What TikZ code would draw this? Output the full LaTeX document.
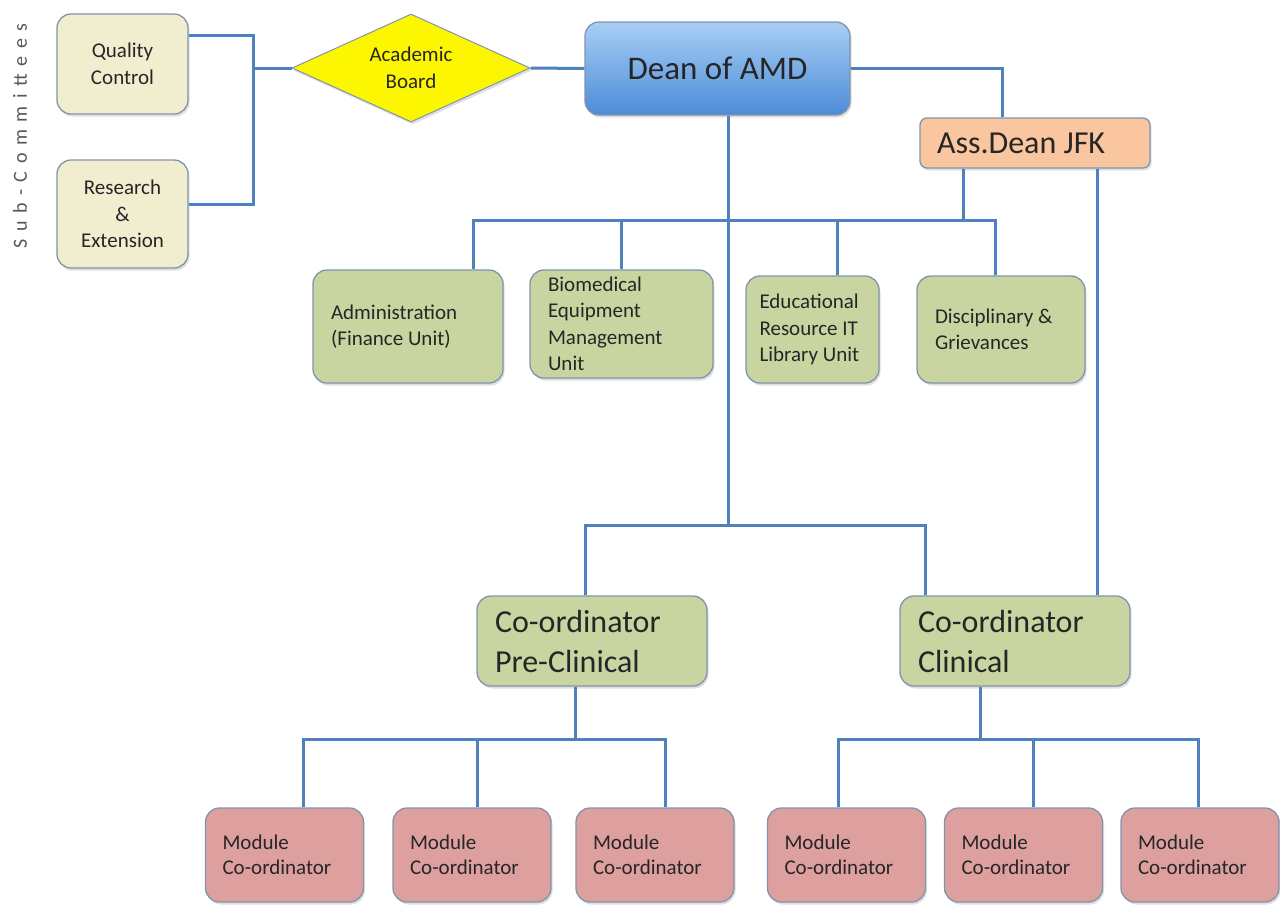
\documentclass[tikz,border=0pt]{standalone}
\usepackage{fontspec}
\setmainfont{Carlito}
\newfontfamily\spacedfont[LetterSpace=38]{Carlito}
\usetikzlibrary{shapes.geometric,shadows}
\definecolor{linkblue}{RGB}{79,129,189}
\definecolor{boxedge}{RGB}{128,148,172}
\definecolor{subfill}{RGB}{240,238,206}
\definecolor{unitfill}{RGB}{200,213,160}
\definecolor{modfill}{RGB}{221,160,158}
\definecolor{assfill}{RGB}{250,198,160}
\definecolor{boardyellow}{RGB}{252,247,0}
\definecolor{deantop}{RGB}{168,206,246}
\definecolor{deanbot}{RGB}{76,140,214}
\definecolor{subgray}{RGB}{88,88,88}
\begin{document}
\begin{tikzpicture}[x=1pt,y=-1pt]
\useasboundingbox (0,0) rectangle (1280,906);
\tikzstyle{every node}=[inner sep=0pt,text=black!85];
\tikzstyle{box}=[draw=boxedge,line width=1.3pt,rounded corners=14pt,drop shadow={opacity=0.25,shadow xshift=1.5pt,shadow yshift=-2.5pt}];
\tikzstyle{txtsmall}=[font=\fontsize{21}{26.5}\selectfont];
\tikzstyle{txtbig}=[font=\fontsize{32}{40}\selectfont];
\tikzstyle{subbox}=[box,txtsmall,fill=subfill,align=center,minimum width=131pt];
\tikzstyle{unitbox}=[box,txtsmall,fill=unitfill,align=flush left];
\tikzstyle{coordbox}=[box,txtbig,fill=unitfill,align=flush left,minimum width=230pt,text width=194pt,minimum height=90pt];
\tikzstyle{modbox}=[box,txtsmall,fill=modfill,align=flush left,minimum width=158pt,text width=124pt,minimum height=94pt,font=\fontsize{21}{25}\selectfont];
\tikzstyle{linkline}=[draw=linkblue,line width=3pt];
\node[rotate=90,text=subgray,font=\spacedfont\fontsize{20}{20}\selectfont] (sc) at (20,136) {Sub-Committees};
\node[subbox,minimum height=100pt] (qc) at (122.5,64) {Quality\\Control};
\node[subbox,minimum height=108pt] (re) at (122.5,214) {Research\\\&\\Extension};
\node[diamond,aspect=2.2,draw=boxedge,line width=1pt,fill=boardyellow,txtsmall,align=center,minimum width=238pt,minimum height=108pt,drop shadow={opacity=0.25,shadow xshift=1.5pt,shadow yshift=-2.5pt}] (ab) at (411,68) {Academic\\Board};
\node[box,top color=deantop,bottom color=deanbot,minimum width=265pt,minimum height=93pt,font=\fontsize{33}{40}\selectfont] (dean) at (717.5,68.5) {Dean of AMD};
\node[box,fill=assfill,rounded corners=7pt,minimum width=230pt,minimum height=50pt,text width=196pt,align=flush left,txtbig] (ass) at (1035,143) {Ass.Dean JFK};
\node[unitbox,minimum width=190pt,text width=154pt,minimum height=113pt] (adm) at (408,326.5) {Administration\\(Finance Unit)};
\node[unitbox,minimum width=183pt,text width=147pt,minimum height=108pt] (bio) at (621.5,324) {Biomedical\\Equipment\\Management\\Unit};
\node[unitbox,minimum width=133pt,text width=106pt,minimum height=107pt] (edu) at (812.5,329.5) {Educational\\Resource IT\\Library Unit};
\node[unitbox,minimum width=168pt,text width=132pt,minimum height=107pt] (dis) at (1001,329.5) {Disciplinary \&\\Grievances};
\node[coordbox] (pre) at (592,641) {Co-ordinator\\Pre-Clinical};
\node[coordbox] (cli) at (1015,641) {Co-ordinator\\Clinical};
\node[modbox] (m1) at (284.5,855) {Module\\Co-ordinator};
\node[modbox] (m2) at (472,855) {Module\\Co-ordinator};
\node[modbox] (m3) at (655,855) {Module\\Co-ordinator};
\node[modbox] (m4) at (846.5,855) {Module\\Co-ordinator};
\node[modbox] (m5) at (1023.5,855) {Module\\Co-ordinator};
\node[modbox] (m6) at (1200,855) {Module\\Co-ordinator};
\coordinate (sj) at (253,68);
\coordinate (uj) at (963,220);
\coordinate (dj) at (728,525);
\coordinate (pj) at (575,739);
\coordinate (cj) at (980,739);
\draw[linkline] ([yshift=-22pt]qc.north east) -| (sj) |- ([yshift=-45pt]re.north east);
\draw[linkline] (sj) -- (ab.west);
\draw[linkline] (ab.east) -- (dean.west);
\draw[linkline] (dean.east) -| ([xshift=-33pt]ass.north);
\draw[linkline] ([xshift=10.5pt]dean.south) -- (dj);
\draw[linkline] ([xshift=-7pt]pre.north) |- (dj) -| ([xshift=-90pt]cli.north);
\draw[linkline] ([xshift=-72pt]ass.south) -- (uj);
\draw[linkline] ([xshift=65pt]adm.north) |- (uj) -| ([xshift=-6pt]dis.north);
\draw[linkline] (bio.north) |- (uj);
\draw[linkline] ([xshift=25pt]edu.north) |- (uj);
\draw[linkline] ([xshift=62pt]ass.south) -- ([xshift=82pt]cli.north);
\draw[linkline] ([xshift=-17pt]pre.south) -- (pj);
\draw[linkline] ([xshift=18.5pt]m1.north) |- (pj) -| ([xshift=10pt]m3.north);
\draw[linkline] ([xshift=5pt]m2.north) |- (pj);
\draw[linkline] ([xshift=-35pt]cli.south) -- (cj);
\draw[linkline] ([xshift=-8.5pt]m4.north) |- (cj) -| ([xshift=-2pt]m6.north);
\draw[linkline] ([xshift=10pt]m5.north) |- (cj);
\end{tikzpicture}
\end{document}
